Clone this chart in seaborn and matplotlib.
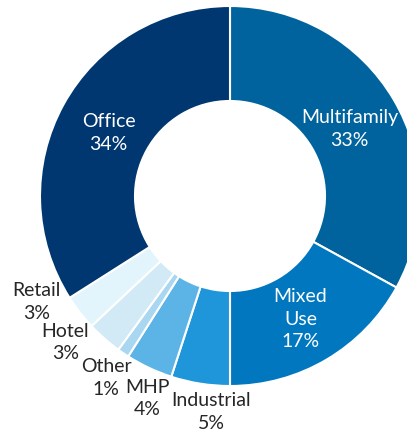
import numpy as np
import matplotlib
matplotlib.use("Agg")
import matplotlib.pyplot as plt
import seaborn as sns

categories = ["Multifamily", "Mixed\nUse", "Industrial", "MHP", "Other", "Hotel", "Retail", "Office"]
values = [33, 17, 5, 4, 1, 3, 3, 34]
pct_labels = ["33%", "17%", "5%", "4%", "1%", "3%", "3%", "34%"]
colors = ["#00639E", "#0077BF", "#2096DA", "#5CB4E6", "#A9D6F0", "#D2E9F6", "#E2F5FC", "#003770"]
inside = [True, True, False, False, False, False, False, True]

sns.set_theme(style="white")
plt.rcParams["font.family"] = ["Lato", "DejaVu Sans"]

fig = plt.figure(figsize=(4.07, 4.32), dpi=100)
ax = fig.add_axes([0, 0, 1, 1])
wedges, _ = ax.pie(values, colors=colors, startangle=90, counterclock=False,
                   radius=1.0, wedgeprops=dict(width=0.5, edgecolor="white", linewidth=1.5))

# axis limits place the donut centre where it sits in the reference
ax.set_xlim(-230 / 190, (407 - 230) / 190)
ax.set_ylim(-236 / 190, (432 - 236) / 190)
ax.set_aspect("equal")
ax.axis("off")

nudges = [0, 0, 4, 3, 0, -7, -9, 0]
label_r = [0.73, 0.73, 1.14, 1.15, 1.16, 1.16, 1.16, 0.73]
for w, cat, pct, ins, nd, r in zip(wedges, categories, pct_labels, inside, nudges, label_r):
    mid = np.deg2rad((w.theta1 + w.theta2) / 2 + nd)
    x, y = r * np.cos(mid), r * np.sin(mid) - (0.02 if ins else 0.0)
    ax.text(x, y, f"{cat}\n{pct}", ha="center", va="center", fontsize=14,
            color="white" if ins else "#262626", linespacing=1.4)

fig.savefig("out.png", dpi=100)
